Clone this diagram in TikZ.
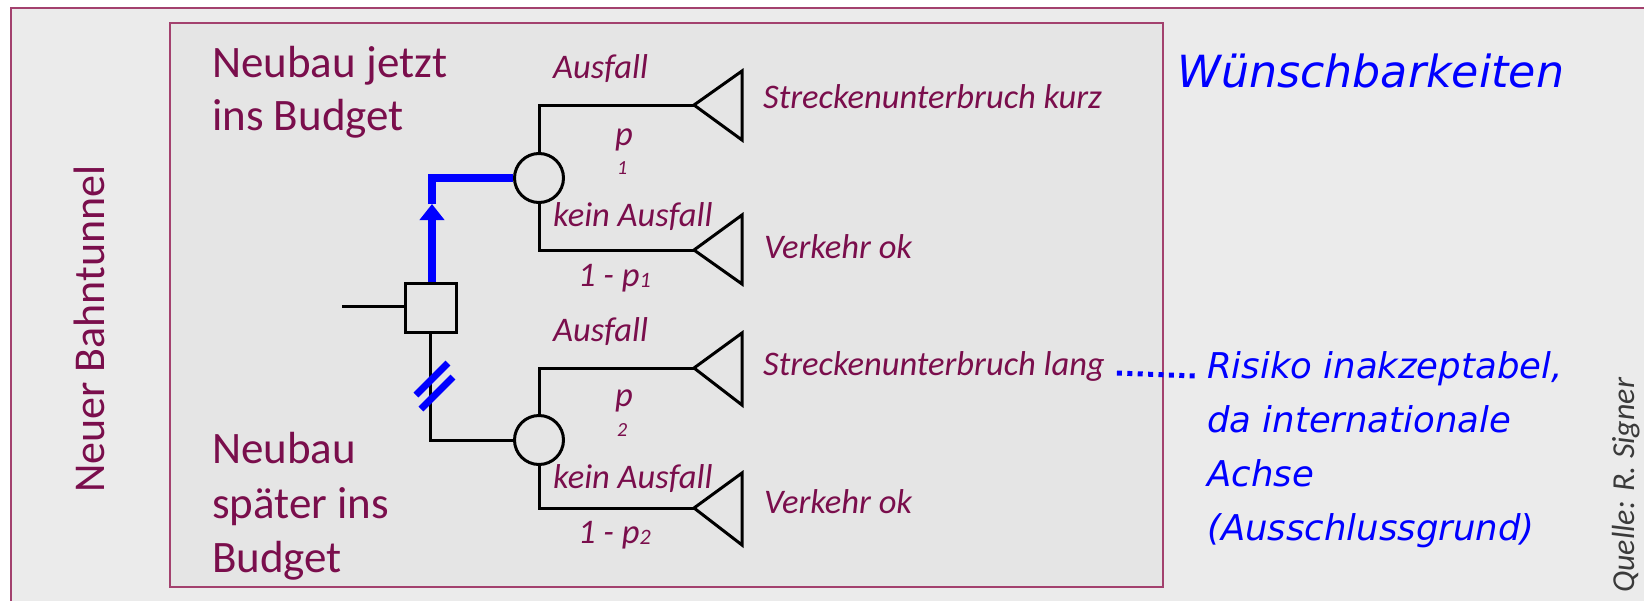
\documentclass[tikz,border=0pt]{standalone}
\usepackage{fontspec}
\setmainfont{Carlito}
\newfontfamily\verdfont{DejaVu Sans}
\usetikzlibrary{arrows.meta,positioning,calc}

\definecolor{tcol}{HTML}{7A0E4C}
\definecolor{fcol}{HTML}{A3416E}
\definecolor{bgout}{HTML}{EBEBEB}
\definecolor{bgin}{HTML}{E5E5E5}
\definecolor{qcol}{HTML}{3A3A3A}

\begin{document}
\begin{tikzpicture}[
  x=1pt,y=-1pt,
  big/.style={text=tcol,inner sep=0pt,font=\fontsize{45}{54}\selectfont},
  lab/.style={text=tcol,inner sep=0pt,font=\fontsize{34.5}{40}\selectfont\itshape},
  idx/.style={text=tcol,inner sep=0pt,font=\fontsize{20}{22}\selectfont\itshape},
  note/.style={text=blue,inner sep=0pt,font=\verdfont\itshape\fontsize{35.5}{54}\selectfont},
  frm/.style={draw=fcol,line width=1.8pt},
  ln/.style={line width=3pt},
  blu/.style={draw=blue,line width=8pt},
  decbox/.style={draw,line width=3pt,minimum width=51pt,minimum height=49pt,inner sep=0pt},
  chance/.style={draw,circle,line width=3pt,minimum size=49pt,inner sep=0pt},
]
\useasboundingbox (0,0) rectangle (1644,600);
\clip (0,0) rectangle (1644,600);
% ---------- frames ----------
\fill[bgout] (11,8) rectangle (1650,606);
\draw[frm] (11,606) -- (11,8) -- (1650,8);
\draw[frm,fill=bgin] (170,23) rectangle (1163,587);
% ---------- side texts ----------
\node[big,rotate=90,anchor=base west,font=\fontsize{44}{54}\selectfont] (title) at (104,493) {Neuer Bahntunnel};
\node[text=qcol,inner sep=0pt,rotate=90,anchor=base west,font=\fontsize{32}{40}\selectfont\itshape] (src) at (1634,593) {Quelle: R. Signer};
\node[big,anchor=base west] (opt1a) at (212,77) {Neubau jetzt};
\node[big,anchor=base west] (opt1b) at (212,130) {ins Budget};
\node[big,anchor=base west] (opt2a) at (212,463) {Neubau};
\node[big,anchor=base west] (opt2b) at (212,518) {später ins};
\node[big,anchor=base west] (opt2c) at (212,572) {Budget};
% ---------- decision and chance nodes ----------
\node[decbox] (dec) at (430.5,307.5) {};
\node[chance] (ch1) at (539,178) {};
\node[chance] (ch2) at (539,440) {};
\coordinate (stub) at (342,306);
\draw[ln] (stub) -- (dec.west |- stub);
% chosen branch
\coordinate (tip) at (432,204);
\draw[blu,-{Triangle[width=24pt,length=16pt]}] (dec.north -| tip) -- (tip);
\draw[blu] (tip) |- (ch1.west);
% rejected branch
\draw[ln] (dec.south) |- (ch2.west);
\coordinate (brk) at (432,379);
\draw[draw=blue,line width=7pt] ($(brk)+(-16,16)$) -- ++(32,-32);
\draw[draw=blue,line width=7pt] ($(brk)+(-11,30)$) -- ++(32,-32);
% ---------- outcome branches ----------
\coordinate (e1) at (694,105);
\coordinate (e2) at (694,250);
\coordinate (e3) at (694,368);
\coordinate (e4) at (694,508);
\draw[ln] (ch1.north) |- (e1);
\draw[ln] (ch1.south) |- (e2);
\draw[ln] (ch2.north) |- (e3);
\draw[ln] (ch2.south) |- (e4);
\draw[ln] (e1) -- ++(48,-34) -- ++(0,69) -- cycle;
\draw[ln] (e2) -- ++(48,-35) -- ++(0,69) -- cycle;
\draw[ln] (e3) -- ++(48,-35) -- ++(0,72) -- cycle;
\draw[ln] (e4) -- ++(48,-35) -- ++(0,72) -- cycle;
% ---------- branch labels ----------
\node[lab,anchor=base west] (a1) at (553,78) {Ausfall};
\node[lab,anchor=base west] (p1) at (615,145) {p};
\node[idx,anchor=base west] (i1) at (617,174) {1};
\node[lab,anchor=base west] (k1) at (553,226) {kein Ausfall};
\node[lab,anchor=base west] (q1) at (578,286) {1 - p\raisebox{-1pt}{\fontsize{22}{22}\selectfont 1}};
\node[lab,anchor=base west] (a2) at (553,341) {Ausfall};
\node[lab,anchor=base west] (p2) at (615,406) {p};
\node[idx,anchor=base west] (i2) at (617,436) {2};
\node[lab,anchor=base west] (k2) at (553,488) {kein Ausfall};
\node[lab,anchor=base west] (q2) at (578,543) {1 - p\raisebox{-1pt}{\fontsize{22}{22}\selectfont 2}};
\node[lab,anchor=base west] (o1) at (763,108) {Streckenunterbruch kurz};
\node[lab,anchor=base west] (o2) at (764,258) {Verkehr ok};
\node[lab,anchor=base west] (o3) at (763,375) {Streckenunterbruch lang};
\node[lab,anchor=base west] (o4) at (764,513) {Verkehr ok};
% ---------- assessment ----------
\node[note,anchor=base west,font=\verdfont\itshape\fontsize{44.3}{54}\selectfont] (wish) at (1177,87) {Wünschbarkeiten};
\node[note,anchor=base west] (r1) at (1207,378) {Risiko inakzeptabel,};
\node[note,anchor=base west] (r2) at (1207,432) {da internationale};
\node[note,anchor=base west] (r3) at (1207,486) {Achse};
\node[note,anchor=base west] (r4) at (1207,540) {(Ausschlussgrund)};
\draw[draw=blue,line width=5pt,dash pattern=on 5pt off 5.4pt]
  ($(o3.base east)+(12,-2)$) -- ($(r1.base west)+(-12,-2)$);
\end{tikzpicture}
\end{document}
